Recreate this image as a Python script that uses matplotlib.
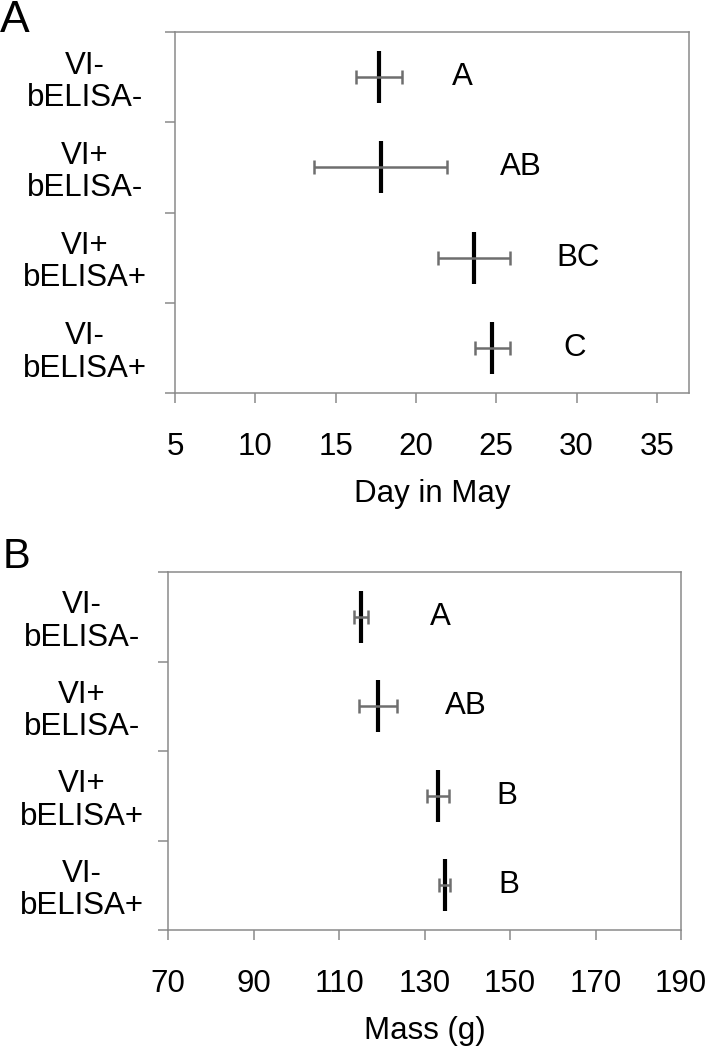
import matplotlib
matplotlib.use("Agg")
import matplotlib.pyplot as plt

plt.rcParams['font.family'] = ['Liberation Sans', 'DejaVu Sans']

# groups, top to bottom
groups = ["VI-\nbELISA-", "VI+\nbELISA-", "VI+\nbELISA+", "VI-\nbELISA+"]

# panel A: arrival date (day in May)
day_mean = [17.7, 17.8, 23.6, 24.75]
day_err = [1.45, 4.15, 2.25, 1.1]
day_letters = ["A", "AB", "BC", "C"]
day_letter_x = [22.9, 26.5, 30.1, 29.9]

# panel B: mass (g)
mass_mean = [115.1, 119.1, 133.2, 134.7]
mass_err = [1.7, 4.4, 2.5, 1.25]
mass_letters = ["A", "AB", "B", "B"]
mass_letter_x = [133.8, 139.6, 149.3, 149.8]

W, H = 709, 1050
fig = plt.figure(figsize=(W / 100, H / 100), dpi=100)
GRAY = '#8a8a8a'


def px_axes(left, top, right, bottom):
    return fig.add_axes([left / W, 1 - bottom / H, (right - left) / W, (bottom - top) / H])


def draw_panel(ax, mean, err, letters, letter_x, xlim, xticks, xlabel, ylab_pad):
    ys = list(range(len(mean)))
    ax.plot(mean, ys, linestyle='none', marker='|', markersize=37,
            markeredgewidth=3, color='black', zorder=2)
    ax.errorbar(mean, ys, xerr=err, fmt='none', ecolor='#6e6e6e',
                elinewidth=1.8, capsize=5, capthick=1.8, zorder=3)
    for y, lab, lx in zip(ys, letters, letter_x):
        ax.text(lx, y, lab, ha='center', va='center', fontsize=22.5)

    ax.set_xlim(*xlim)
    ax.set_ylim(len(mean) - 0.5, -0.5)
    ax.set_xticks(xticks)
    ax.set_yticks(ys)
    ax.set_yticklabels(groups, ha='center', fontsize=22.5, linespacing=1.1)
    ax.set_yticks([y - 0.5 for y in range(len(mean) + 1)], minor=True)
    ax.tick_params(axis='y', which='major', length=0, pad=ylab_pad)
    ax.tick_params(axis='y', which='minor', length=7, width=1.1, color=GRAY)
    ax.tick_params(axis='x', length=7, width=1.1, color=GRAY, labelsize=22.5, pad=21)
    ax.set_xlabel(xlabel, fontsize=22.5, labelpad=12)
    for sp in ax.spines.values():
        sp.set_color(GRAY)
        sp.set_linewidth(1.1)


axA = px_axes(175, 32, 689, 393)
draw_panel(axA, day_mean, day_err, day_letters, day_letter_x,
           (5, 37), [5, 10, 15, 20, 25, 30, 35], "Day in May", 65)

axB = px_axes(168, 572, 681, 930)
draw_panel(axB, mass_mean, mass_err, mass_letters, mass_letter_x,
           (70, 190), [70, 90, 110, 130, 150, 170, 190], "Mass (g)", 62)

fig.text(0 / W, 1 - 32 / H, "A", fontsize=32, ha='left', va='baseline')
fig.text(3 / W, 1 - 568 / H, "B", fontsize=30, ha='left', va='baseline')

fig.savefig("out.png", dpi=100, facecolor='white')
